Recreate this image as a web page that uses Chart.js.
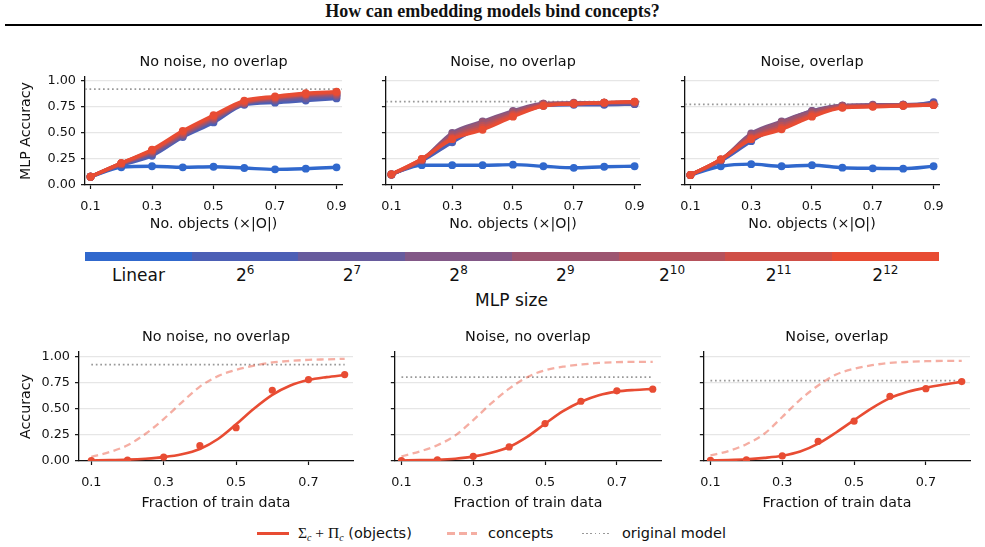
<!DOCTYPE html>
<html>
<head>
<meta charset="utf-8">
<script src="https://cdn.jsdelivr.net/npm/chart.js@4"></script>
<style>
  body { margin: 0; background: #fff; }
  #fig { position: relative; width: 985px; height: 547px; overflow: hidden; background: #fff;
         font-family: "DejaVu Sans", sans-serif; color: #111; }
  #fig canvas { position: absolute; }
  #title { position: absolute; left: 0; top: 1px; width: 985px; text-align: center;
           font: bold 18px "Liberation Serif", serif; }
  #rule { position: absolute; left: 5px; top: 24px; width: 977px; height: 2px; background: #000; }
  .seg { position: absolute; top: 252px; height: 9px; }
  .cbl { position: absolute; top: 265px; width: 107px; text-align: center; font-size: 17px; line-height: 20px; }
  .cbl sup { font-size: 12px; vertical-align: 7px; line-height: 0; }
  #cbtitle { position: absolute; left: 0; width: 1023px; top: 290px; text-align: center; font-size: 17px; line-height: 20px; }
  .lg { position: absolute; top: 524px; font-size: 14.5px; line-height: 18px; white-space: nowrap; }
  .sw { position: absolute; }
  .math { font-family: "Liberation Serif", serif; font-size: 15.5px; }
  .math sub { font-size: 10px; font-style: italic; vertical-align: -3px; line-height: 0; }
</style>
</head>
<body>
<div id="fig">
  <div id="title">How can embedding models bind concepts?</div>
  <div id="rule"></div>

  <canvas id="t1" width="341" height="188" style="left:16px; top:47px"></canvas>
  <canvas id="t2" width="284" height="188" style="left:371px; top:47px"></canvas>
  <canvas id="t3" width="284" height="188" style="left:670px; top:47px"></canvas>

  <div id="colorbar"></div>
  <div id="cbtitle">MLP size</div>

  <canvas id="b1" width="350" height="192" style="left:16px; top:322px"></canvas>
  <canvas id="b2" width="294" height="192" style="left:381px; top:322px"></canvas>
  <canvas id="b3" width="294" height="192" style="left:690px; top:322px"></canvas>

  <div class="sw" style="left:257px; top:532px; width:32px; height:2.5px; background:#E84C33"></div>
  <div class="lg" style="left:298px"><span class="math">&Sigma;<sub>c</sub> + &Pi;<sub>c</sub></span> (objects)</div>
  <div class="sw" style="left:447px; top:532px; width:30px; height:2.5px;
       background:repeating-linear-gradient(90deg, rgba(232,76,51,0.45) 0 8px, transparent 8px 12px)"></div>
  <div class="lg" style="left:488px">concepts</div>
  <div class="sw" style="left:582px; top:532.5px; width:29px; height:1.6px;
       background:repeating-linear-gradient(90deg, #999 0 1.6px, transparent 1.6px 4.2px)"></div>
  <div class="lg" style="left:622px">original model</div>
</div>

<script>
// ---- data -------------------------------------------------------------
const mlpSizes = ['Linear', '6', '7', '8', '9', '10', '11', '12'];   // 'Linear', then 2^n
const mlpColors = ['#3068CD', '#4C5FB5', '#675B9D', '#825887', '#9C5570', '#B5525C', '#CF4F47', '#E84C33'];

const objFrac = [0.1, 0.2, 0.3, 0.4, 0.5, 0.6, 0.7, 0.8, 0.9];
const objTicks = [0.1, 0.3, 0.5, 0.7, 0.9];
const accTicks = [0, 0.25, 0.5, 0.75, 1.0];

// MLP accuracy, one row per MLP size (Linear, 2^6 ... 2^12)
const accNoNoise = [
  [0.08, 0.17, 0.18, 0.17, 0.175, 0.163, 0.15, 0.157, 0.17],
  [0.08, 0.19, 0.28, 0.46, 0.60, 0.77, 0.79, 0.81, 0.83],
  [0.08, 0.20, 0.30, 0.47, 0.62, 0.78, 0.81, 0.83, 0.85],
  [0.08, 0.20, 0.31, 0.48, 0.63, 0.78, 0.82, 0.85, 0.86],
  [0.08, 0.20, 0.32, 0.49, 0.64, 0.79, 0.83, 0.86, 0.87],
  [0.08, 0.21, 0.33, 0.50, 0.65, 0.79, 0.84, 0.87, 0.88],
  [0.08, 0.21, 0.33, 0.51, 0.66, 0.80, 0.84, 0.87, 0.89],
  [0.08, 0.21, 0.34, 0.52, 0.67, 0.81, 0.85, 0.88, 0.895]
];
const accNoise = [
  [0.105, 0.19, 0.19, 0.19, 0.195, 0.18, 0.165, 0.175, 0.18],
  [0.10, 0.23, 0.41, 0.57, 0.69, 0.76, 0.77, 0.77, 0.775],
  [0.10, 0.24, 0.46, 0.60, 0.70, 0.77, 0.78, 0.78, 0.78],
  [0.10, 0.24, 0.50, 0.61, 0.71, 0.78, 0.78, 0.79, 0.79],
  [0.10, 0.24, 0.48, 0.60, 0.70, 0.78, 0.79, 0.79, 0.79],
  [0.10, 0.24, 0.46, 0.57, 0.68, 0.77, 0.78, 0.79, 0.795],
  [0.10, 0.25, 0.45, 0.55, 0.67, 0.76, 0.78, 0.79, 0.80],
  [0.105, 0.25, 0.44, 0.53, 0.655, 0.76, 0.78, 0.79, 0.80]
];
const accOverlap = [
  [0.096, 0.18, 0.20, 0.18, 0.19, 0.166, 0.16, 0.157, 0.18],
  [0.095, 0.23, 0.42, 0.58, 0.70, 0.75, 0.76, 0.76, 0.795],
  [0.095, 0.24, 0.47, 0.60, 0.71, 0.76, 0.76, 0.77, 0.78],
  [0.095, 0.24, 0.495, 0.61, 0.71, 0.76, 0.77, 0.77, 0.775],
  [0.095, 0.24, 0.48, 0.60, 0.70, 0.76, 0.76, 0.77, 0.77],
  [0.096, 0.245, 0.46, 0.57, 0.68, 0.75, 0.76, 0.765, 0.77],
  [0.096, 0.245, 0.45, 0.55, 0.67, 0.745, 0.755, 0.76, 0.767],
  [0.096, 0.246, 0.44, 0.534, 0.655, 0.74, 0.75, 0.76, 0.767]
];
const origTop = [0.92, 0.80, 0.773];

const trainFrac = [0.1, 0.2, 0.3, 0.4, 0.5, 0.6, 0.7, 0.8];
const fitFrac = [0.1, 0.15, 0.2, 0.25, 0.3, 0.35, 0.4, 0.45, 0.5, 0.55, 0.6, 0.65, 0.7, 0.75, 0.8];
const trainTicks = [0.1, 0.3, 0.5, 0.7];

const objPtsNoNoise  = [0.005, 0.008, 0.038, 0.146, 0.318, 0.675, 0.777, 0.825];
const objFitNoNoise  = [0.005, 0.008, 0.013, 0.022, 0.037, 0.064, 0.115, 0.21, 0.35, 0.50, 0.63, 0.72, 0.772, 0.80, 0.82];
const conceptsNoNoise = [0.04, 0.085, 0.15, 0.26, 0.40, 0.56, 0.71, 0.81, 0.87, 0.91, 0.94, 0.955, 0.965, 0.97, 0.975];

const objPtsNoise  = [0.005, 0.01, 0.045, 0.134, 0.357, 0.57, 0.67, 0.685];
const objFitNoise  = [0.005, 0.008, 0.012, 0.022, 0.042, 0.078, 0.134, 0.23, 0.355, 0.475, 0.565, 0.628, 0.662, 0.678, 0.688];
const conceptsNoise = [0.045, 0.09, 0.15, 0.245, 0.39, 0.55, 0.69, 0.80, 0.866, 0.90, 0.92, 0.936, 0.943, 0.946, 0.946];

const objPtsOverlap  = [0.006, 0.01, 0.048, 0.188, 0.38, 0.618, 0.69, 0.758];
const objFitOverlap  = [0.006, 0.01, 0.017, 0.03, 0.05, 0.09, 0.165, 0.272, 0.39, 0.505, 0.60, 0.66, 0.70, 0.73, 0.755];
const conceptsOverlap = [0.054, 0.095, 0.16, 0.26, 0.42, 0.586, 0.72, 0.825, 0.88, 0.914, 0.936, 0.946, 0.952, 0.955, 0.955];
const origBottom = [0.92, 0.80, 0.767];

// ---- colour bar -------------------------------------------------------
const cb = document.getElementById('colorbar');
const segW = 106.7;
mlpSizes.forEach((s, i) => {
  const seg = document.createElement('div');
  seg.className = 'seg';
  seg.style.left = (85 + i * segW) + 'px';
  seg.style.width = (segW + 0.6) + 'px';
  seg.style.background = mlpColors[i];
  cb.appendChild(seg);
  const lab = document.createElement('div');
  lab.className = 'cbl';
  lab.style.left = (85 + i * segW) + 'px';
  lab.innerHTML = i === 0 ? s : '2<sup>' + s + '</sup>';
  cb.appendChild(lab);
});

// ---- charts -----------------------------------------------------------
const INK = '#111';
const TICK_FONT = { family: 'DejaVu Sans', size: 12.8 };
const LABEL_FONT = { family: 'DejaVu Sans', size: 14.2 };
const ORIG_STYLE = { borderColor: '#999', borderWidth: 1.7, borderDash: [1.7, 2.8], pointRadius: 0 };

const panelTitle = {
  id: 'panelTitle',
  afterDraw(chart, args, opts) {
    const a = chart.chartArea;
    const ctx = chart.ctx;
    ctx.save();
    ctx.font = '14.4px "DejaVu Sans"';
    ctx.fillStyle = INK;
    ctx.textAlign = 'center';
    ctx.textBaseline = 'alphabetic';
    ctx.fillText(opts.text, (a.left + a.right) / 2, a.top - 11.3);
    ctx.restore();
  }
};

const pts = (xs, ys) => xs.map((x, i) => ({ x: x, y: ys[i] }));

function makeOptions(o) {
  return {
    responsive: false,
    animation: false,
    events: [],
    layout: { padding: { left: 0, top: 30, right: o.padR, bottom: 0 } },
    plugins: { legend: { display: false }, tooltip: { enabled: false }, panelTitle: { text: o.title } },
    scales: {
      x: {
        type: 'linear', min: o.xMin, max: o.xMax,
        afterBuildTicks: s => { s.ticks = o.xTicks.map(v => ({ value: v })); },
        afterFit: s => { s.height = o.xH; },
        ticks: { font: TICK_FONT, color: INK, padding: 10, maxRotation: 0, callback: v => v.toFixed(1) },
        grid: { drawOnChartArea: false, tickLength: 4, tickColor: INK, tickWidth: 1.2 },
        border: { color: INK, width: 1.3 },
        title: { display: true, text: o.xTitle, font: LABEL_FONT, color: INK, padding: 2 }
      },
      y: {
        min: 0, max: o.yMax,
        afterBuildTicks: s => { s.ticks = accTicks.map(v => ({ value: v })); },
        afterFit: s => { s.width = o.yW; },
        ticks: { display: o.yTitle !== '', font: TICK_FONT, color: INK, padding: 5, callback: v => v.toFixed(2) },
        grid: { color: '#e6e6e6', lineWidth: 1.3, tickLength: 4, tickColor: INK, tickWidth: 1.2 },
        border: { color: INK, width: 1.3 },
        title: { display: o.yTitle !== '', text: o.yTitle, font: LABEL_FONT, color: INK, padding: 2 }
      }
    }
  };
}

const TOP_X = [0.082, 0.918];
function topChart(id, title, acc, orig, yTitle, yW, padR) {
  const datasets = acc.map((row, i) => ({
    data: pts(objFrac, row),
    borderColor: mlpColors[i],
    backgroundColor: mlpColors[i],
    borderWidth: 3.4,
    pointRadius: 3.9,
    pointBorderWidth: 0,
    cubicInterpolationMode: 'monotone',
    order: acc.length - i + 1
  }));
  datasets.push(Object.assign({ data: [{ x: TOP_X[0], y: orig }, { x: TOP_X[1], y: orig }], order: 20 }, ORIG_STYLE));
  new Chart(document.getElementById(id), {
    type: 'line',
    data: { datasets: datasets },
    options: makeOptions({ title: title, xMin: TOP_X[0], xMax: TOP_X[1], xTicks: objTicks, xH: 50,
      xTitle: 'No. objects (×|O|)', yMax: 1.036, yTitle: yTitle, yW: yW, padR: padR }),
    plugins: [panelTitle]
  });
}

function bottomChart(id, title, ptsY, fitY, conceptY, orig, xMin, yTitle, yW, padR) {
  const red = mlpColors[7];
  new Chart(document.getElementById(id), {
    type: 'line',
    data: {
      datasets: [
        { data: pts(trainFrac, ptsY), showLine: false, pointRadius: 3.6, pointBorderWidth: 0,
          backgroundColor: red, borderColor: red, order: 1 },
        { data: pts(fitFrac, fitY), borderColor: red, borderWidth: 2.6, pointRadius: 0,
          cubicInterpolationMode: 'monotone', order: 2 },
        { data: pts(fitFrac, conceptY), borderColor: 'rgba(232,76,51,0.45)', borderWidth: 2.3,
          borderDash: [7, 4.5], pointRadius: 0, cubicInterpolationMode: 'monotone', order: 3 },
        Object.assign({ data: [{ x: trainFrac[0], y: orig }, { x: trainFrac[trainFrac.length - 1], y: orig }], order: 4 }, ORIG_STYLE)
      ]
    },
    options: makeOptions({ title: title, xMin: xMin, xMax: 0.823, xTicks: trainTicks, xH: 53,
      xTitle: 'Fraction of train data', yMax: 1.04, yTitle: yTitle, yW: yW, padR: padR }),
    plugins: [panelTitle]
  });
}

topChart('t1', 'No noise, no overlap', accNoNoise, origTop[0], 'MLP Accuracy', 69, 14);
topChart('t2', 'Noise, no overlap', accNoise, origTop[1], '', 12, 14);
topChart('t3', 'Noise, overlap', accOverlap, origTop[2], '', 12, 14);

bottomChart('b1', 'No noise, no overlap', objPtsNoNoise, objFitNoNoise, conceptsNoNoise, origBottom[0], 0.066, 'Accuracy', 63, 13);
bottomChart('b2', 'Noise, no overlap', objPtsNoise, objFitNoise, conceptsNoise, origBottom[1], 0.0815, '', 12, 14);
bottomChart('b3', 'Noise, overlap', objPtsOverlap, objFitOverlap, conceptsOverlap, origBottom[2], 0.0815, '', 12, 14);
</script>
</body>
</html>
